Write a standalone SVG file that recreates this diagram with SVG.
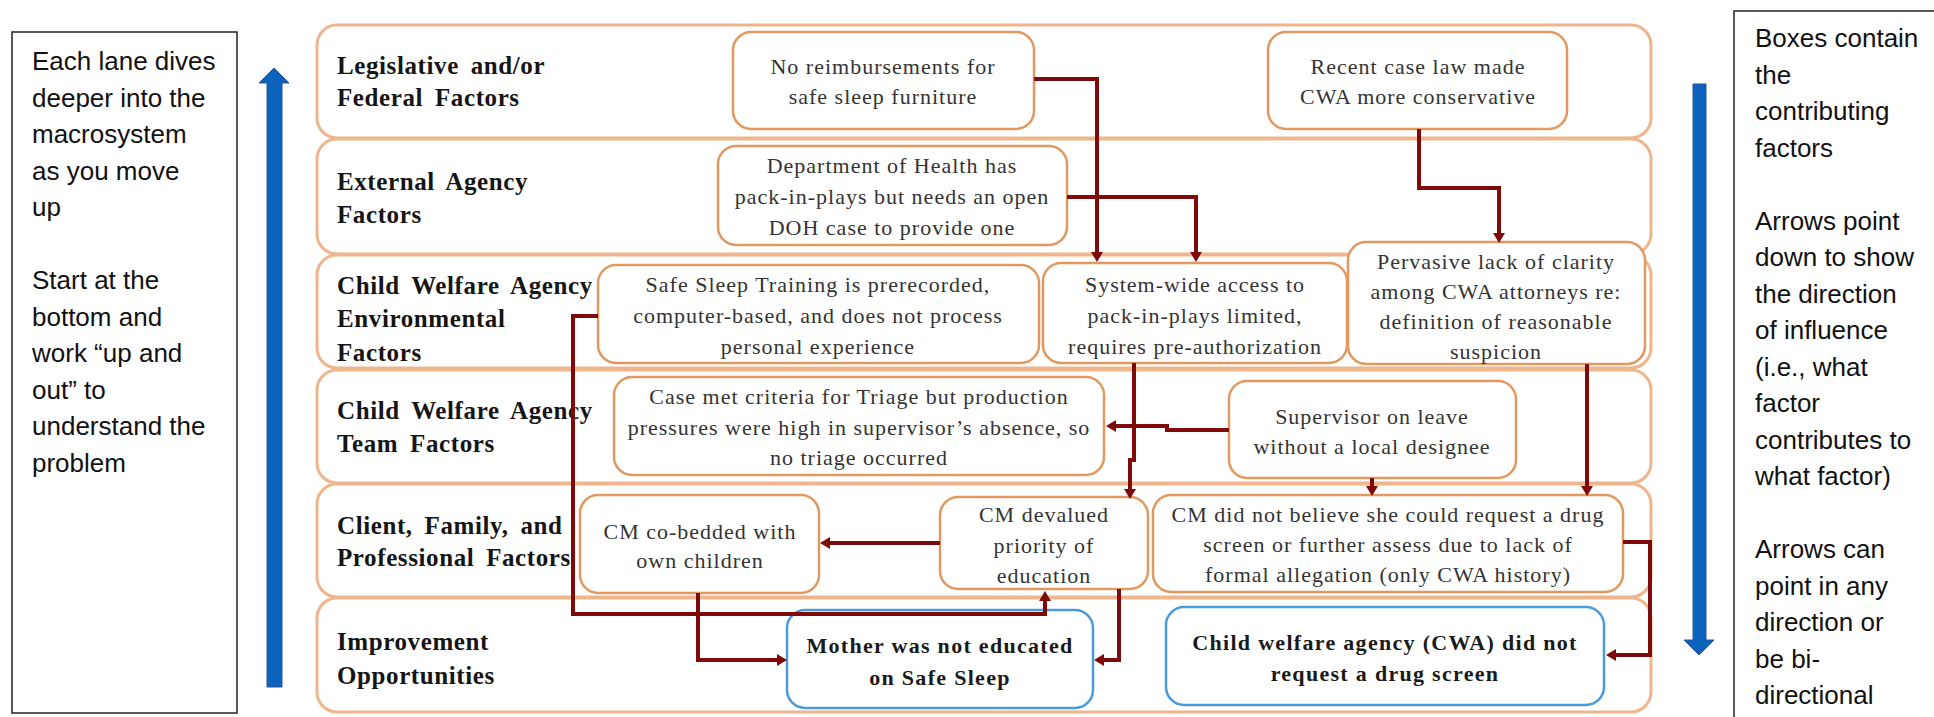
<svg xmlns="http://www.w3.org/2000/svg" width="1934" height="717" viewBox="0 0 1934 717">
  <style>
    .note { font-family: "Liberation Sans", Arial, sans-serif; font-size: 26px; fill: #111; }
    .lane { fill: #fff; stroke: #EFB68D; stroke-width: 3; }
    .lane-label { font-family: "Liberation Serif", "Times New Roman", serif; font-size: 25px; font-weight: bold; letter-spacing: 0.6px; word-spacing: 5px; fill: #151515; }
    .factor { fill: #fff; stroke: #E2995F; stroke-width: 2.5; }
    .outcome { fill: #fff; stroke: #4A9BDC; stroke-width: 2.5; }
    .factor-text { font-family: "Liberation Serif", "Times New Roman", serif; font-size: 22px; letter-spacing: 1px; fill: #333; text-anchor: middle; }
    .outcome-text { font-family: "Liberation Serif", "Times New Roman", serif; font-size: 22px; font-weight: bold; letter-spacing: 1.3px; fill: #1a1a1a; text-anchor: middle; }
    .link { fill: none; stroke: #7E0A0A; stroke-width: 4; marker-end: url(#head); }
    .guide { fill: #0B63BD; stroke: #2F5597; stroke-width: 1; }
  </style>
  <defs>
    <marker id="head" markerUnits="userSpaceOnUse" viewBox="0 0 10 12" markerWidth="10" markerHeight="12" refX="4" refY="6" orient="auto">
      <path d="M0,0 L10,6 L0,12 Z" fill="#7E0A0A"/>
    </marker>
  </defs>

  <rect width="1934" height="717" fill="#fff"/>

  <!-- left reading note -->
  <g id="note-left">
    <rect x="12" y="32" width="225" height="681" fill="#fff" stroke="#222" stroke-width="1.5"/>
    <text class="note">
      <tspan x="32" y="70">Each lane dives</tspan>
      <tspan x="32" y="106.5">deeper into the</tspan>
      <tspan x="32" y="143">macrosystem</tspan>
      <tspan x="32" y="179.5">as you move</tspan>
      <tspan x="32" y="216">up</tspan>
      <tspan x="32" y="289">Start at the</tspan>
      <tspan x="32" y="325.5">bottom and</tspan>
      <tspan x="32" y="362">work “up and</tspan>
      <tspan x="32" y="398.5">out” to</tspan>
      <tspan x="32" y="435">understand the</tspan>
      <tspan x="32" y="471.5">problem</tspan>
    </text>
  </g>

  <!-- upward guide arrow -->
  <g id="arrow-up">
    <path class="guide" d="M267,687 L267,83 L259,83 L274,68 L289,83 L282,83 L282,687 Z"/>
  </g>

  <!-- swim lanes -->
  <g id="lanes">
    <g id="lane-legislative">
      <rect class="lane" x="317" y="25" width="1334" height="113" rx="20"/>
      <text class="lane-label"><tspan x="337" y="74">Legislative and/or</tspan><tspan x="337" y="106">Federal Factors</tspan></text>
    </g>
    <g id="lane-external">
      <rect class="lane" x="317" y="139" width="1334" height="115" rx="20"/>
      <text class="lane-label"><tspan x="337" y="190">External Agency</tspan><tspan x="337" y="223">Factors</tspan></text>
    </g>
    <g id="lane-environmental">
      <rect class="lane" x="317" y="255" width="1334" height="113" rx="20"/>
      <text class="lane-label"><tspan x="337" y="294">Child Welfare Agency</tspan><tspan x="337" y="327">Environmental</tspan><tspan x="337" y="361">Factors</tspan></text>
    </g>
    <g id="lane-team">
      <rect class="lane" x="317" y="370" width="1334" height="113" rx="20"/>
      <text class="lane-label"><tspan x="337" y="419">Child Welfare Agency</tspan><tspan x="337" y="452">Team Factors</tspan></text>
    </g>
    <g id="lane-client">
      <rect class="lane" x="317" y="484" width="1334" height="113" rx="20"/>
      <text class="lane-label"><tspan x="337" y="534">Client, Family, and</tspan><tspan x="337" y="566">Professional Factors</tspan></text>
    </g>
    <g id="lane-improvement">
      <rect class="lane" x="317" y="598" width="1334" height="114" rx="20"/>
      <text class="lane-label"><tspan x="337" y="650">Improvement</tspan><tspan x="337" y="684">Opportunities</tspan></text>
    </g>
  </g>

  <!-- contributing factors -->
  <g id="no-reimbursements">
    <rect class="factor" x="733" y="32" width="301" height="97" rx="18"/>
    <text class="factor-text"><tspan x="883" y="74">No reimbursements for</tspan><tspan x="883" y="104">safe sleep furniture</tspan></text>
  </g>
  <g id="recent-case-law">
    <rect class="factor" x="1268" y="32" width="299" height="97" rx="18"/>
    <text class="factor-text"><tspan x="1418" y="74">Recent case law made</tspan><tspan x="1418" y="104">CWA more conservative</tspan></text>
  </g>
  <g id="doh-pack-in-plays">
    <rect class="factor" x="718" y="146" width="349" height="99" rx="18"/>
    <text class="factor-text"><tspan x="892" y="173">Department of Health has</tspan><tspan x="892" y="204">pack-in-plays but needs an open</tspan><tspan x="892" y="235">DOH case to provide one</tspan></text>
  </g>
  <g id="safe-sleep-training">
    <rect class="factor" x="598" y="265" width="441" height="98" rx="18"/>
    <text class="factor-text"><tspan x="818" y="292">Safe Sleep Training is prerecorded,</tspan><tspan x="818" y="323">computer-based, and does not process</tspan><tspan x="818" y="354">personal experience</tspan></text>
  </g>
  <g id="system-wide-access">
    <rect class="factor" x="1043" y="263" width="304" height="100" rx="18"/>
    <text class="factor-text"><tspan x="1195" y="292">System-wide access to</tspan><tspan x="1195" y="323">pack-in-plays limited,</tspan><tspan x="1195" y="354">requires pre-authorization</tspan></text>
  </g>
  <g id="lack-of-clarity">
    <rect class="factor" x="1348" y="242" width="297" height="122" rx="18"/>
    <text class="factor-text"><tspan x="1496" y="269">Pervasive lack of clarity</tspan><tspan x="1496" y="299">among CWA attorneys re:</tspan><tspan x="1496" y="329">definition of reasonable</tspan><tspan x="1496" y="359">suspicion</tspan></text>
  </g>
  <g id="no-triage">
    <rect class="factor" x="614" y="377" width="490" height="98" rx="18"/>
    <text class="factor-text"><tspan x="859" y="404">Case met criteria for Triage but production</tspan><tspan x="859" y="435">pressures were high in supervisor’s absence, so</tspan><tspan x="859" y="465">no triage occurred</tspan></text>
  </g>
  <g id="supervisor-on-leave">
    <rect class="factor" x="1229" y="381" width="287" height="97" rx="18"/>
    <text class="factor-text"><tspan x="1372" y="424">Supervisor on leave</tspan><tspan x="1372" y="454">without a local designee</tspan></text>
  </g>
  <g id="co-bedded">
    <rect class="factor" x="580" y="495" width="239" height="98" rx="18"/>
    <text class="factor-text"><tspan x="700" y="539">CM co-bedded with</tspan><tspan x="700" y="568">own children</tspan></text>
  </g>
  <g id="devalued-education">
    <rect class="factor" x="940" y="497" width="208" height="92" rx="18"/>
    <text class="factor-text"><tspan x="1044" y="522">CM devalued</tspan><tspan x="1044" y="553">priority of</tspan><tspan x="1044" y="583">education</tspan></text>
  </g>
  <g id="drug-screen-belief">
    <rect class="factor" x="1153" y="495" width="470" height="97" rx="18"/>
    <text class="factor-text"><tspan x="1388" y="522">CM did not believe she could request a drug</tspan><tspan x="1388" y="552">screen or further assess due to lack of</tspan><tspan x="1388" y="582">formal allegation (only CWA history)</tspan></text>
  </g>

  <!-- improvement opportunities -->
  <g id="mother-not-educated">
    <rect class="outcome" x="787" y="610" width="306" height="98" rx="18"/>
    <text class="outcome-text"><tspan x="940" y="653">Mother was not educated</tspan><tspan x="940" y="685">on Safe Sleep</tspan></text>
  </g>
  <g id="no-drug-screen">
    <rect class="outcome" x="1166" y="607" width="438" height="98" rx="18"/>
    <text class="outcome-text"><tspan x="1385" y="650">Child welfare agency (CWA) did not</tspan><tspan x="1385" y="681">request a drug screen</tspan></text>
  </g>

  <!-- influence connectors -->
  <g id="connectors">
    <path class="link" d="M1034,79 H1097 V256"/>
    <path class="link" d="M1067,197 H1196 V256"/>
    <path class="link" d="M1419,129 V188 H1499 V237"/>
    <path class="link" d="M598,316 H573 V614 H1045 V597"/>
    <path class="link" d="M1134,363 V460 H1130 V493"/>
    <path class="link" d="M1229,430 H1167 V426 H1112"/>
    <path class="link" d="M1372,478 V490"/>
    <path class="link" d="M1587,364 V490"/>
    <path class="link" d="M1623,542 H1650 V655 H1612"/>
    <path class="link" d="M940,543 H826"/>
    <path class="link" d="M698,593 V660 H781"/>
    <path class="link" d="M1119,589 V660 H1100"/>
  </g>

  <!-- downward guide arrow -->
  <g id="arrow-down">
    <path class="guide" d="M1693,84 L1706,84 L1706,640 L1714,640 L1699,655 L1684,640 L1693,640 Z"/>
  </g>

  <!-- right reading note -->
  <g id="note-right">
    <rect x="1734" y="11" width="220" height="730" fill="#fff" stroke="#222" stroke-width="1.5"/>
    <text class="note">
      <tspan x="1755" y="47">Boxes contain</tspan>
      <tspan x="1755" y="83.5">the</tspan>
      <tspan x="1755" y="120">contributing</tspan>
      <tspan x="1755" y="156.5">factors</tspan>
      <tspan x="1755" y="229.5">Arrows point</tspan>
      <tspan x="1755" y="266">down to show</tspan>
      <tspan x="1755" y="302.5">the direction</tspan>
      <tspan x="1755" y="339">of influence</tspan>
      <tspan x="1755" y="375.5">(i.e., what</tspan>
      <tspan x="1755" y="412">factor</tspan>
      <tspan x="1755" y="448.5">contributes to</tspan>
      <tspan x="1755" y="485">what factor)</tspan>
      <tspan x="1755" y="558">Arrows can</tspan>
      <tspan x="1755" y="594.5">point in any</tspan>
      <tspan x="1755" y="631">direction or</tspan>
      <tspan x="1755" y="667.5">be bi-</tspan>
      <tspan x="1755" y="704">directional</tspan>
    </text>
  </g>
</svg>
